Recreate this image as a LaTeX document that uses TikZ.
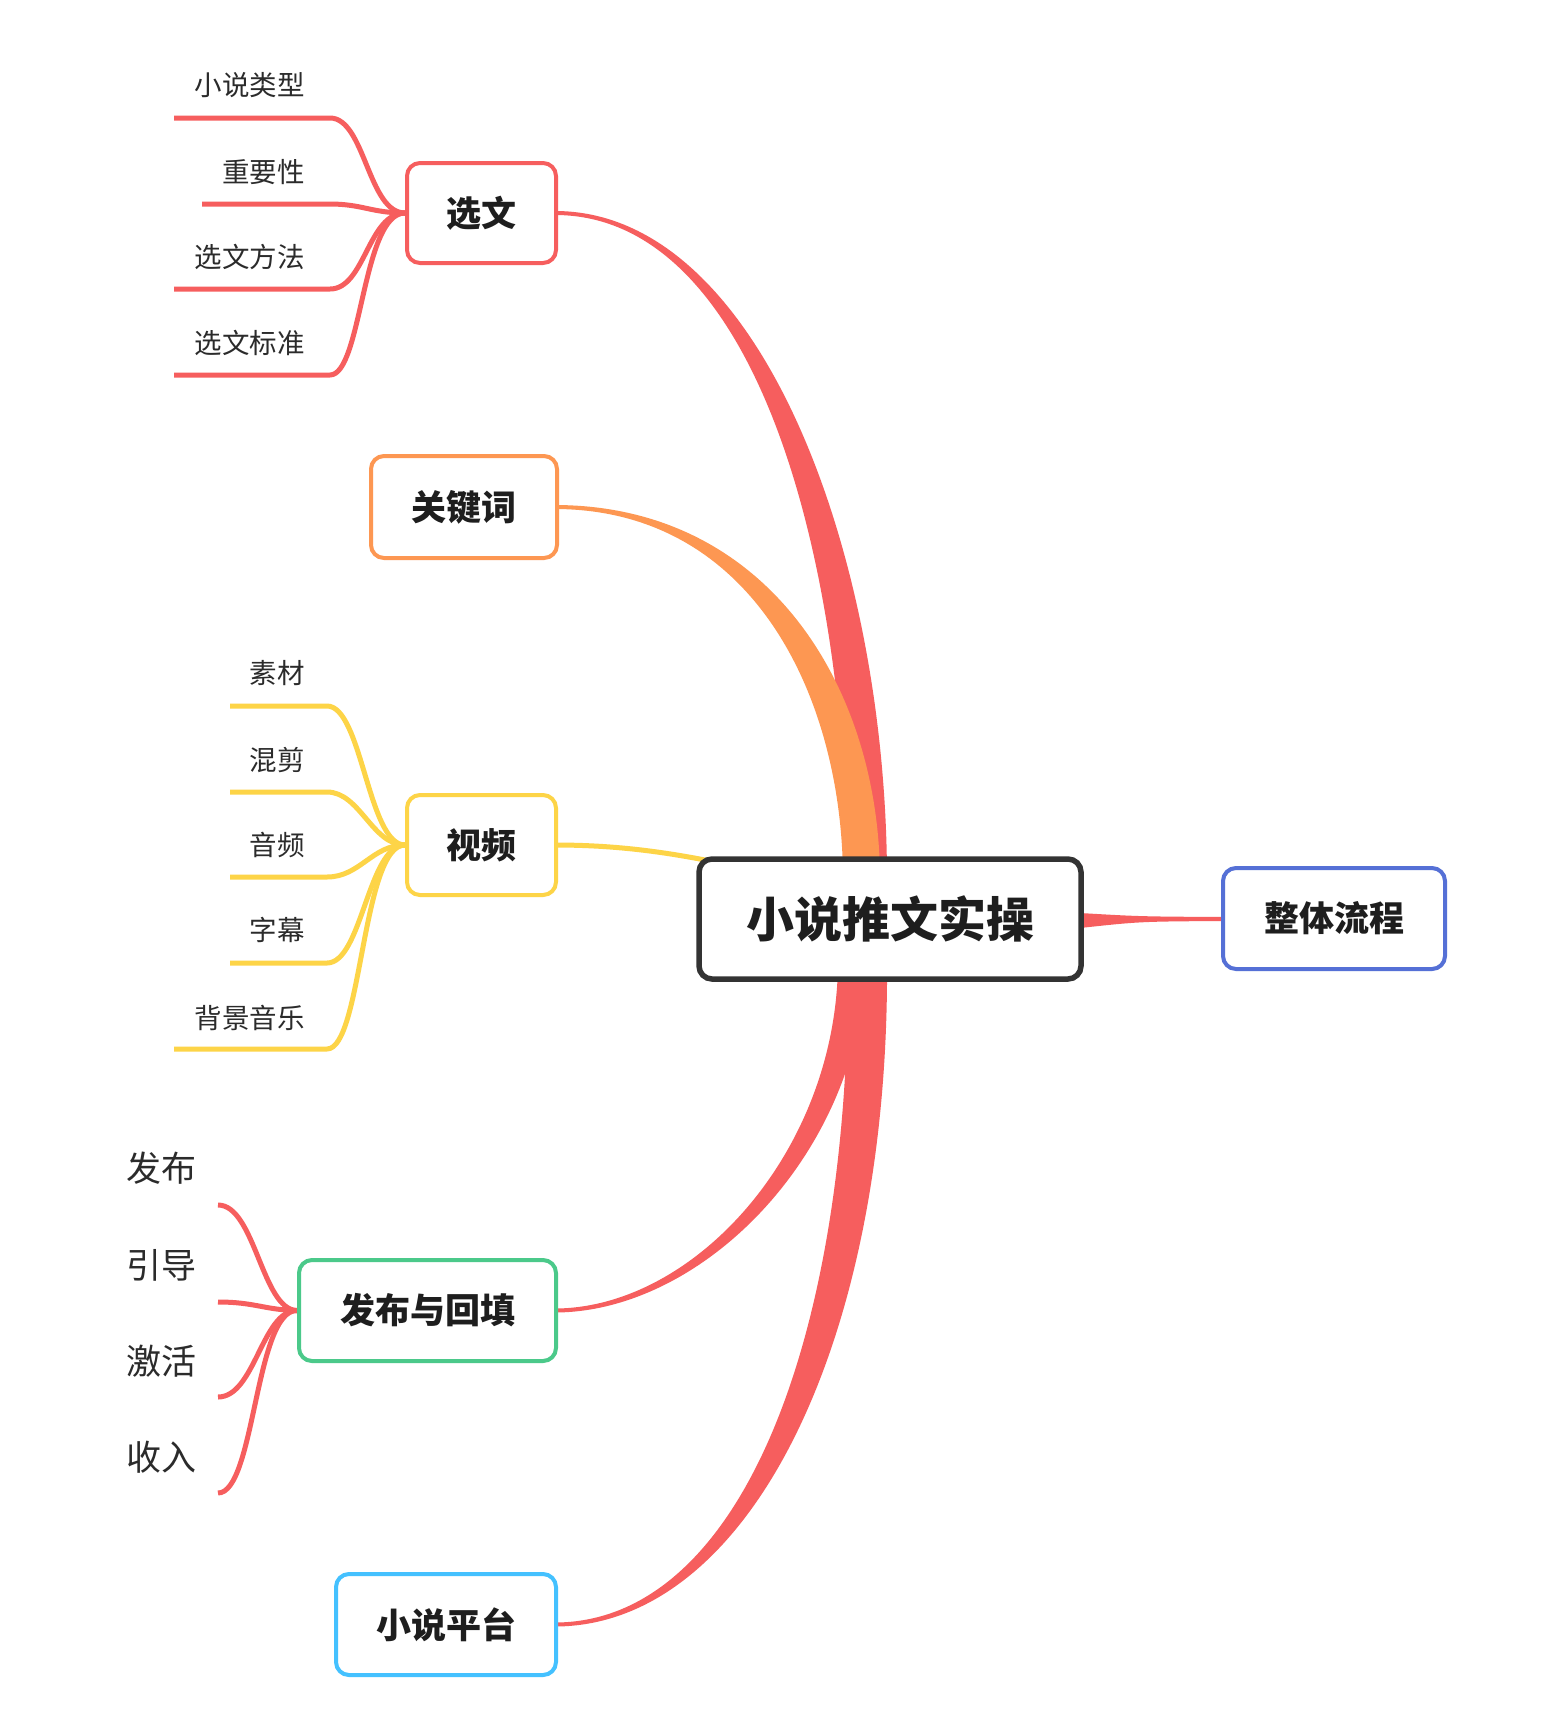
\documentclass[tikz,border=0pt]{standalone}
\usepackage{fontspec}
\setmainfont{Noto Sans CJK SC}
\usetikzlibrary{backgrounds,calc}
\definecolor{cred}{HTML}{F65E5E}
\definecolor{corange}{HTML}{FD9752}
\definecolor{cyellow}{HTML}{FDD447}
\definecolor{cgreen}{HTML}{4BC98A}
\definecolor{ccyan}{HTML}{44C1FF}
\definecolor{cblue}{HTML}{5570D6}
\definecolor{cdark}{HTML}{333333}
\definecolor{ctext}{HTML}{1E1E1E}
\definecolor{cleaf}{HTML}{2B2B2B}
\begin{document}
\begin{tikzpicture}[x=0.5pt,y=-0.5pt,
  mainbox/.style={draw=#1, line width=2pt, rounded corners=6.5pt, fill=white, inner sep=0pt, text=ctext, font=\fontsize{17.5}{20}\selectfont\bfseries},
  leaf/.style={inner sep=0pt, anchor=east, text=cleaf, font=\fontsize{13.75}{16}\selectfont},
  bigleaf/.style={inner sep=0pt, anchor=east, text=cleaf, font=\fontsize{17.5}{20}\selectfont},
  branch/.style={draw=#1, line width=2.5pt, line join=round},
  wedge/.style={fill=#1, draw=none},
]
\useasboundingbox (0,0) rectangle (1552,1730);

% main nodes
\node[draw=cdark, line width=2.75pt, rounded corners=6.5pt, fill=white, inner sep=0pt,
      minimum width=191pt, minimum height=60pt, text=ctext,
      font=\fontsize{24}{28}\selectfont\bfseries] (central) at (890,919) {小说推文实操};
\node[mainbox=cred, minimum width=74.5pt, minimum height=50pt] (xuanwen) at (481.5,213) {选文};
\node[mainbox=corange, minimum width=93pt, minimum height=51pt] (guanjian) at (464,507) {关键词};
\node[mainbox=cyellow, minimum width=74.5pt, minimum height=50pt] (shipin) at (481.5,845) {视频};
\node[mainbox=cgreen, minimum width=128.5pt, minimum height=50.5pt] (fabu) at (427.5,1310.5) {发布与回填};
\node[mainbox=ccyan, minimum width=110pt, minimum height=50.5pt] (pingtai) at (446,1624.5) {小说平台};
\node[mainbox=cblue, minimum width=111pt, minimum height=50.5pt] (zhengti) at (1334,918.5) {整体流程};

% leaves of 选文
\node[leaf] (x1) at (305,85) {小说类型};
\node[leaf] (x2) at (305,172) {重要性};
\node[leaf] (x3) at (305,257) {选文方法};
\node[leaf] (x4) at (305,343) {选文标准};
% leaves of 视频
\node[leaf] (v1) at (305,673) {素材};
\node[leaf] (v2) at (305,760) {混剪};
\node[leaf] (v3) at (305,845) {音频};
\node[leaf] (v4) at (305,930) {字幕};
\node[leaf] (v5) at (305,1018) {背景音乐};
% leaves of 发布与回填
\node[bigleaf] (f1) at (197,1168) {发布};
\node[bigleaf] (f2) at (197,1265) {引导};
\node[bigleaf] (f3) at (197,1361) {激活};
\node[bigleaf] (f4) at (197,1457) {收入};

% free ends of leaf lines
\coordinate (x1s) at (174,118);
\coordinate (x2s) at (202,204);
\coordinate (x3s) at (174,289);
\coordinate (x4s) at (174,375);
\coordinate (v1s) at (230,706);
\coordinate (v2s) at (230,792);
\coordinate (v3s) at (230,877);
\coordinate (v4s) at (230,963);
\coordinate (v5s) at (174,1049);
\coordinate (f1s) at (218,1205);
\coordinate (f2s) at (218,1302);
\coordinate (f3s) at (218,1397);
\coordinate (f4s) at (218,1493);

\begin{scope}[on background layer]
\fill[white] (0,0) rectangle (1552,1730);

% central -> 选文
\fill[wedge=cred] ($(xuanwen.east)+(-3,-2)$) .. controls (762,211) and (887,560) .. ($(central.center)+(-3,-39)$)
   -- ($(central.center)+(-43,-39)$) .. controls (847,565) and (758,215) .. ($(xuanwen.east)+(-3,2)$) -- cycle;
% central -> 关键词
\fill[wedge=corange] ($(guanjian.east)+(-3,-2)$) .. controls (770,506) and (880,690) .. ($(central.center)+(-10,-39)$)
   -- ($(central.center)+(-47,-39)$) .. controls (843,700) and (755,510) .. ($(guanjian.east)+(-3,2)$) -- cycle;
% central -> 视频
\draw[line width=2.5pt, cyellow] ($(shipin.east)+(-3,0)$) .. controls (612,845) and (662,851) .. ($(central.center)+(-170,-56)$);
% central -> 整体流程
\fill[wedge=cred] ($(central.center)+(190,-6)$) .. controls (1140,916.5) .. ($(zhengti.west)+(3,-1.5)$)
   -- ($(zhengti.west)+(3,2.5)$) .. controls (1140,921.5) .. ($(central.center)+(190,9)$) -- cycle;
% central -> 发布与回填
\fill[wedge=cred] ($(fabu.east)+(-3,-2)$) .. controls (695,1308) and (838,1150) .. ($(central.center)+(-52,41)$)
   -- ($(central.center)+(-24,41)$) .. controls (862,1150) and (705,1312) .. ($(fabu.east)+(-3,2)$) -- cycle;
% central -> 小说平台
\fill[wedge=cred] ($(pingtai.east)+(-3,-2)$) .. controls (740,1622) and (850,1340) .. ($(central.center)+(-42,41)$)
   -- ($(central.center)+(-3,41)$) .. controls (890,1340) and (750,1626) .. ($(pingtai.east)+(-3,2)$) -- cycle;

% 选文 leaves
\draw[branch=cred] (x1s) -- (330,118) .. controls (365,118) and (368,213) .. (xuanwen.west);
\draw[branch=cred] (x2s) -- (330,204) .. controls (362,204) and (372,213) .. (xuanwen.west);
\draw[branch=cred] (x3s) -- (330,289) .. controls (365,289) and (368,213) .. (xuanwen.west);
\draw[branch=cred] (x4s) -- (330,375) .. controls (362,375) and (362,213) .. (xuanwen.west);
% 视频 leaves
\draw[branch=cyellow] (v1s) -- (327,706) .. controls (362,706) and (368,845) .. (shipin.west);
\draw[branch=cyellow] (v2s) -- (327,792) .. controls (360,792) and (372,845) .. (shipin.west);
\draw[branch=cyellow] (v3s) -- (327,877) .. controls (360,877) and (372,845) .. (shipin.west);
\draw[branch=cyellow] (v4s) -- (327,963) .. controls (362,963) and (368,845) .. (shipin.west);
\draw[branch=cyellow] (v5s) -- (327,1049) .. controls (362,1049) and (362,845) .. (shipin.west);
% 发布与回填 leaves
\draw[branch=cred] (f1s) .. controls (255,1205) and (262,1310) .. (fabu.west);
\draw[branch=cred] (f2s) .. controls (255,1302) and (265,1310) .. (fabu.west);
\draw[branch=cred] (f3s) .. controls (255,1397) and (262,1310) .. (fabu.west);
\draw[branch=cred] (f4s) .. controls (255,1493) and (255,1310) .. (fabu.west);
\end{scope}
\end{tikzpicture}
\end{document}
